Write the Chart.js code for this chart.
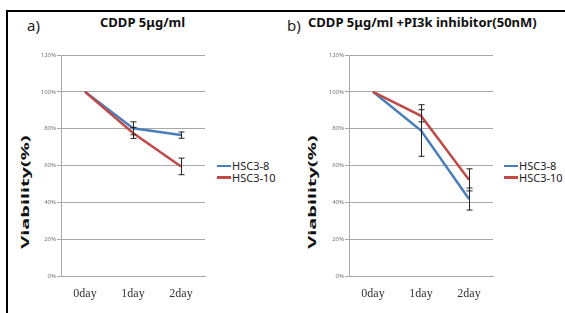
<!DOCTYPE html>
<html>
<head>
<meta charset="utf-8">
<script src="https://cdn.jsdelivr.net/npm/chart.js@4.4.0/dist/chart.umd.min.js"></script>
<style>
    body { margin: 0; background: #fff; width: 565px; height: 313px; overflow: hidden; position: relative; font-family: "Noto Sans", sans-serif; color: #222; }
    #frame { position: absolute; left: 6px; top: 10px; width: 570px; height: 320px; border-top: 2px solid #000; border-left: 2px solid #000; }
    .tag { position: absolute; font-size: 15px; line-height: 1; }
    .title { position: absolute; font-size: 13px; font-weight: bold; line-height: 1; white-space: nowrap; color: #111; }
    .ytitle { position: absolute; font-size: 10px; font-weight: bold; line-height: 1; white-space: nowrap; color: #111;
              transform: translate(-50%, -50%) rotate(-90deg) scaleX(2); }
    .legend { position: absolute; font-size: 11px; line-height: 11.5px; }
    .legend div { display: flex; align-items: center; white-space: nowrap; }
    .legend span.ln { display: inline-block; width: 14px; height: 2.5px; margin-right: 1px; }
</style>
</head>
<body>
<div id="frame"></div>

<div class="tag" style="left:27px;top:18px">a)</div>
<div class="title" style="left:100px;top:16px">CDDP 5μg/ml</div>
<div class="ytitle" style="left:25px;top:192px">Viability(%)</div>
<div style="position:absolute;left:30px;top:40px;width:180px;height:273px"><canvas id="chartA"></canvas></div>
<div class="legend" id="legendA" style="left:217px;top:160px"></div>

<div class="tag" style="left:287px;top:18px">b)</div>
<div class="title" style="left:308px;top:16px">CDDP 5μg/ml +PI3k inhibitor(50nM)</div>
<div class="ytitle" style="left:312px;top:192px">Viability(%)</div>
<div style="position:absolute;left:318px;top:40px;width:180px;height:273px"><canvas id="chartB"></canvas></div>
<div class="legend" id="legendB" style="left:504px;top:160px"></div>

<script>
// values (viability %, mean and error)
const days = ["0day", "1day", "2day"];
const yTicks = [0, 20, 40, 60, 80, 100, 120];

const hsc8A = [100, 80.2, 76.5];
const hsc8ErrA = [0, 3.5, 1.7];
const hsc10A = [100, 77.7, 59.5];
const hsc10ErrA = [0, 3, 4.5];

const hsc8B = [100, 79, 41.8];
const hsc8ErrB = [0, 14, 6];
const hsc10B = [100, 87, 52.2];
const hsc10ErrB = [0, 3.3, 6];

const BLUE = "#4a7ebb";
const RED = "#be4b48";
const GRID = "#a8a8a8";

// error bars drawn through the chart's own scales
const errorBars = {
    id: "errorBars",
    afterDatasetsDraw(chart) {
        const { ctx, scales: { x, y } } = chart;
        ctx.save();
        ctx.strokeStyle = "#222";
        ctx.lineWidth = 1;
        chart.data.datasets.forEach((ds) => {
            if (!ds.errors) return;
            ds.data.forEach((v, i) => {
                const e = ds.errors[i];
                if (!e) return;
                const px = Math.round(x.getPixelForValue(i)) + 0.5;
                const top = y.getPixelForValue(v + e);
                const bot = y.getPixelForValue(v - e);
                ctx.beginPath();
                ctx.moveTo(px, top);
                ctx.lineTo(px, bot);
                ctx.moveTo(px - 3, top);
                ctx.lineTo(px + 3, top);
                ctx.moveTo(px - 3, bot);
                ctx.lineTo(px + 3, bot);
                ctx.stroke();
            });
        });
        ctx.restore();
    },
};

// simple html legend built from the datasets
const htmlLegend = {
    id: "htmlLegend",
    afterUpdate(chart, args, opts) {
        const box = document.getElementById(opts.containerID);
        box.innerHTML = "";
        chart.data.datasets.forEach((ds) => {
            const row = document.createElement("div");
            const ln = document.createElement("span");
            ln.className = "ln";
            ln.style.background = ds.borderColor;
            row.appendChild(ln);
            row.appendChild(document.createTextNode(ds.label));
            box.appendChild(row);
        });
    },
};

function makeChart(id, legendId, s8, e8, s10, e10) {
    return new Chart(document.getElementById(id), {
        type: "line",
        data: {
            labels: days,
            datasets: [
                { label: "HSC3-8", data: s8, errors: e8, borderColor: BLUE, backgroundColor: BLUE, order: 1 },
                { label: "HSC3-10", data: s10, errors: e10, borderColor: RED, backgroundColor: RED, order: 0 },
            ],
        },
        options: {
            responsive: true,
            maintainAspectRatio: false,
            animation: false,
            events: [],
            layout: { padding: { top: 15, right: 5, left: 0, bottom: 0 } },
            elements: {
                line: { borderWidth: 2.5, tension: 0 },
                point: { radius: 0, hoverRadius: 0 },
            },
            plugins: {
                legend: { display: false },
                tooltip: { enabled: false },
                htmlLegend: { containerID: legendId },
            },
            scales: {
                x: {
                    offset: true,
                    grid: { display: false, drawTicks: false },
                    border: { display: true, color: GRID },
                    ticks: { color: "#333", padding: 11, font: { family: "Liberation Serif", size: 12 } },
                    afterFit: (s) => { s.height = 37; },
                },
                y: {
                    min: 0,
                    max: 120,
                    afterBuildTicks: (s) => { s.ticks = yTicks.map((v) => ({ value: v })); },
                    grid: { color: GRID, tickLength: 4 },
                    border: { color: GRID },
                    ticks: {
                        color: "#777",
                        padding: 1,
                        font: { family: "Noto Sans", size: 6 },
                        callback: (v) => v + "%",
                    },
                    afterFit: (s) => { s.width = 31; },
                },
            },
        },
        plugins: [errorBars, htmlLegend],
    });
}

makeChart("chartA", "legendA", hsc8A, hsc8ErrA, hsc10A, hsc10ErrA);
makeChart("chartB", "legendB", hsc8B, hsc8ErrB, hsc10B, hsc10ErrB);
</script>
</body>
</html>
